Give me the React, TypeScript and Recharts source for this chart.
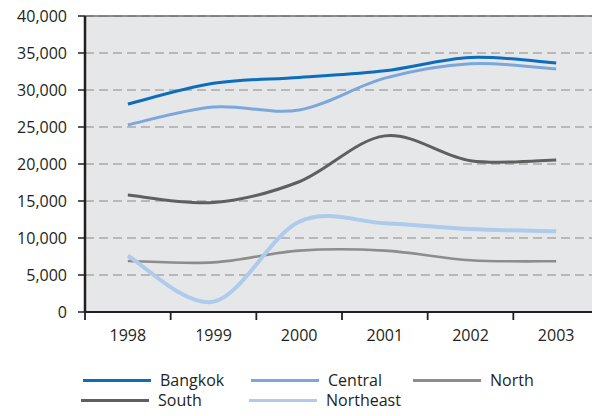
import React from 'react';
import { LineChart, Line, XAxis, YAxis, CartesianGrid, Legend, ReferenceLine } from 'recharts';

const years = ['1998', '1999', '2000', '2001', '2002', '2003'];
const bangkok = [28100, 30900, 31700, 32600, 34400, 33650];
const central = [25300, 27700, 27300, 31600, 33550, 32850];
const north = [6900, 6700, 8300, 8300, 7000, 6850];
const south = [15800, 14800, 17600, 23800, 20450, 20550];
const northeast = [7600, 1400, 12200, 12000, 11200, 10900];
const yTicks = [0, 5000, 10000, 15000, 20000, 25000, 30000, 35000, 40000];

const series = [
  { key: 'Bangkok', values: bangkok, color: '#0b6dbb', width: 3 },
  { key: 'Central', values: central, color: '#7ba7dc', width: 3 },
  { key: 'North', values: north, color: '#8d8d8d', width: 2.6 },
  { key: 'South', values: south, color: '#5f5f5f', width: 3 },
  { key: 'Northeast', values: northeast, color: '#aecaec', width: 4 },
];

const data = years.map((year, i) => {
  const row: Record<string, any> = { year };
  series.forEach((s) => {
    row[s.key] = s.values[i];
  });
  return row;
});

const FONT = '"Open Sans", sans-serif';
const TEXT = '#231f20';

// Excel-like smoothed line (Catmull-Rom style bezier)
const smoothCurve = (context: any) => {
  let pts: number[][] = [];
  return {
    areaStart() {},
    areaEnd() {},
    lineStart() {
      pts = [];
    },
    point(x: number, y: number) {
      pts.push([+x, +y]);
    },
    lineEnd() {
      const n = pts.length;
      if (!n) return;
      context.moveTo(pts[0][0], pts[0][1]);
      for (let i = 0; i < n - 1; i++) {
        const p0 = pts[i - 1] || pts[i];
        const p1 = pts[i];
        const p2 = pts[i + 1];
        const p3 = pts[i + 2] || p2;
        const c1x = p1[0] + (p2[0] - p0[0]) / 6;
        const c1y = p1[1] + (p2[1] - p0[1]) / 6;
        const c2x = p2[0] - (p3[0] - p1[0]) / 6;
        const c2y = p2[1] - (p3[1] - p1[1]) / 6;
        context.bezierCurveTo(c1x, c1y, c2x, c2y, p2[0], p2[1]);
      }
    },
  };
};

const XTick = (props: any) => {
  const { x, y, payload, index, width, visibleTicksCount } = props;
  const count = visibleTicksCount || years.length;
  const half = (width || 514) / count / 2;
  const isLast = index === count - 1;
  return (
    <g>
      <line x1={x - half} x2={x - half} y1={y} y2={y + 8} stroke={TEXT} strokeWidth={1.8} />
      {isLast && <line x1={x + half} x2={x + half} y1={y} y2={y + 8} stroke="#6d6d6d" strokeWidth={1.5} />}
      <text x={x} y={y + 29} textAnchor="middle" fill={TEXT} fontSize={16} fontFamily={FONT}>
        {payload.value}
      </text>
    </g>
  );
};

const legendLayout = [
  [{ i: 0, w: 168 }, { i: 1, w: 162 }, { i: 2, w: 130 }],
  [{ i: 3, w: 168 }, { i: 4, w: 160 }],
];

const LegendContent = () => (
  <div style={{ fontFamily: FONT, fontSize: 16, color: TEXT }}>
    {legendLayout.map((row, r) => (
      <div
        key={r}
        style={{
          display: 'flex',
          alignItems: 'center',
          height: r === 0 ? 22 : 19,
          marginLeft: r === 0 ? 83 : 81,
        }}
      >
        {row.map(({ i, w }) => (
          <div key={i} style={{ display: 'flex', alignItems: 'center', width: w }}>
            <div style={{ width: 68, height: 3, background: series[i].color, marginRight: 9 }} />
            <span style={{ lineHeight: '19px' }}>{series[i].key}</span>
          </div>
        ))}
      </div>
    ))}
  </div>
);

export default function App() {
  return (
    <div style={{ width: 600, height: 408, marginTop: -8, marginLeft: -8 }}>
      <LineChart width={600} height={408} data={data} margin={{ top: 16, right: 0, left: 0, bottom: 0 }}>
        <CartesianGrid
          vertical={false}
          fill="#e6e7e9"
          stroke="#8a8a8a"
          strokeDasharray="9 5"
          strokeWidth={1.2}
        />
        <XAxis
          dataKey="year"
          scale="band"
          height={57}
          tickLine={false}
          tickSize={0}
          tickMargin={0}
          axisLine={{ stroke: TEXT, strokeWidth: 2 }}
          tick={<XTick />}
          interval={0}
        />
        <YAxis
          width={85}
          domain={[0, 40000]}
          ticks={yTicks}
          interval={0}
          tickFormatter={(v: number) => v.toLocaleString('en-US')}
          tick={{ fill: TEXT, fontSize: 16, fontFamily: FONT }}
          tickSize={7}
          tickMargin={11}
          tickLine={{ stroke: TEXT, strokeWidth: 1.5 }}
          axisLine={{ stroke: TEXT, strokeWidth: 2.5 }}
        />
        <YAxis
          yAxisId="right"
          orientation="right"
          width={1}
          domain={[0, 40000]}
          tick={false}
          tickLine={false}
          axisLine={{ stroke: '#6d6d6d', strokeWidth: 1.5 }}
        />
        <ReferenceLine y={40000} stroke="#6d6d6d" strokeWidth={1.5} />
        {series.map((s) => (
          <Line
            key={s.key}
            dataKey={s.key}
            type={smoothCurve as any}
            stroke={s.color}
            strokeWidth={s.width}
            dot={false}
            activeDot={false}
            isAnimationActive={false}
          />
        ))}
        <Legend
          verticalAlign="bottom"
          height={39}
          wrapperStyle={{ left: 0, top: 369, width: 600, height: 39 }}
          content={<LegendContent />}
        />
      </LineChart>
    </div>
  );
}
